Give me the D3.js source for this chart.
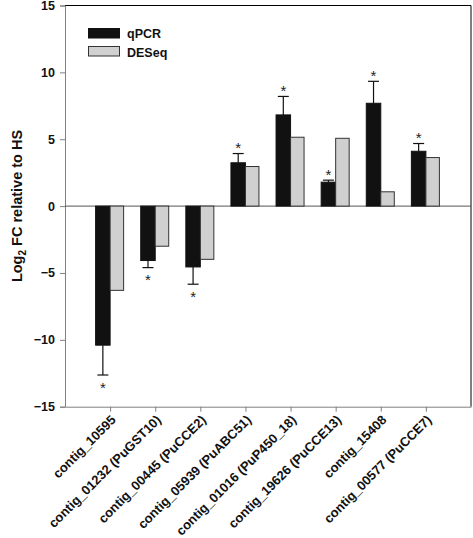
<!DOCTYPE html>
<html><head><meta charset="utf-8">
<script src="https://cdn.jsdelivr.net/npm/d3@7/dist/d3.min.js"></script>
<style>body{margin:0;background:#fff;} svg{display:block;font-family:"Liberation Sans",Arial,sans-serif;}</style>
</head><body><svg id="c" width="473" height="538"></svg>
<script>
const categories = ["contig_10595","contig_01232 (PuGST10)","contig_00445 (PuCCE2)","contig_05939 (PuABC51)","contig_01016 (PuP450_18)","contig_19626 (PuCCE13)","contig_15408","contig_00577 (PuCCE7)"];
const qpcr = [-10.4, -4.07, -4.55, 3.24, 6.82, 1.79, 7.69, 4.1];
const qpcrErr = [2.23, 0.53, 1.29, 0.69, 1.38, 0.15, 1.64, 0.58];
const deseq = [-6.3, -3.0, -3.98, 2.96, 5.15, 5.07, 1.07, 3.63];
const significant = [true, true, true, true, true, true, true, true];
const yTicks = [-15, -10, -5, 0, 5, 10, 15];

const svg = d3.select("#c");
const L = 65, R = 471, T = 5.5, B = 406.7;
const x = d3.scalePoint().domain(categories).range([L, R]).padding(1);
const y = d3.scaleLinear().domain([-15, 15]).range([B, T]);
const bw = 14.5;

svg.append("line").attr("x1", L).attr("x2", R).attr("y1", T).attr("y2", T).attr("stroke", "#000").attr("stroke-width", 1);
svg.append("line").attr("x1", R).attr("x2", R).attr("y1", T).attr("y2", B).attr("stroke", "#000").attr("stroke-width", 1);

const ya = svg.append("g").attr("transform", `translate(${L},0)`)
  .call(d3.axisLeft(y).tickValues(yTicks).tickSize(5).tickPadding(5).tickFormat(d3.format("d")));
ya.select(".domain").attr("stroke", "#808080");
ya.selectAll(".tick line").attr("stroke", "#808080");
ya.selectAll("text").attr("font-size", 12.5).attr("font-weight", "bold").attr("fill", "#111").attr("font-family", "Liberation Sans, Arial, sans-serif");

const xa = svg.append("g").attr("transform", `translate(0,${B})`)
  .call(d3.axisBottom(x).tickSize(5).tickSizeOuter(0));
xa.select(".domain").attr("stroke", "#808080");
xa.selectAll(".tick line").attr("stroke", "#808080");
xa.selectAll("text").attr("font-size", 13).attr("font-weight", "bold").attr("fill", "#111")
  .attr("font-family", "Liberation Sans, Arial, sans-serif")
  .attr("text-anchor", "end").attr("dy", null).attr("y", 0)
  .attr("transform", "translate(6,14) rotate(-45)");

svg.append("line").attr("x1", L).attr("x2", R).attr("y1", y(0)).attr("y2", y(0)).attr("stroke", "#555").attr("stroke-width", 1);

const g = svg.append("g");
categories.forEach((c, i) => {
  const cx = x(c) - bw / 2;
  const v = qpcr[i], e = qpcrErr[i];
  const end = v >= 0 ? v + e : v - e;
  g.append("line").attr("x1", cx).attr("x2", cx).attr("y1", y(v)).attr("y2", y(end)).attr("stroke", "#111").attr("stroke-width", 1.2);
  g.append("line").attr("x1", cx - 5.5).attr("x2", cx + 5.5).attr("y1", y(end)).attr("y2", y(end)).attr("stroke", "#111").attr("stroke-width", 1.2);
  if (significant[i]) {
    const sy = v >= 0 ? y(end) - 9 : y(end) + 9;
    g.append("text").attr("x", cx).attr("y", sy + 8.5).attr("text-anchor", "middle")
      .attr("font-size", 15).attr("fill", "#222").text("*");
  }
});
g.selectAll("rect.q").data(categories).enter().append("rect")
  .attr("x", c => x(c) - bw).attr("width", bw)
  .attr("y", (c, i) => y(Math.max(0, qpcr[i]))).attr("height", (c, i) => Math.abs(y(qpcr[i]) - y(0)))
  .attr("fill", "#111").attr("stroke", "#111").attr("stroke-width", 1);
g.selectAll("rect.d").data(categories).enter().append("rect")
  .attr("x", c => x(c)).attr("width", bw - 1)
  .attr("y", (c, i) => y(Math.max(0, deseq[i]))).attr("height", (c, i) => Math.abs(y(deseq[i]) - y(0)))
  .attr("fill", "#d0d0d0").attr("stroke", "#333").attr("stroke-width", 1);

const leg = svg.append("g");
leg.append("rect").attr("x", 88.5).attr("y", 28.5).attr("width", 31).attr("height", 9.5).attr("fill", "#111").attr("stroke", "#111");
leg.append("rect").attr("x", 88.5).attr("y", 46.5).attr("width", 31).attr("height", 9.5).attr("fill", "#d0d0d0").attr("stroke", "#333");
leg.append("text").attr("x", 127).attr("y", 38).attr("font-size", 12.5).attr("font-weight", "bold").attr("fill", "#111").text("qPCR");
leg.append("text").attr("x", 127).attr("y", 56.5).attr("font-size", 12.5).attr("font-weight", "bold").attr("fill", "#111").text("DESeq");

const yl = svg.append("text").attr("transform", "translate(22,206) rotate(-90)").attr("text-anchor", "middle")
  .attr("font-size", 14.5).attr("font-weight", "bold").attr("fill", "#111");
yl.append("tspan").text("Log");
yl.append("tspan").attr("font-size", 10).attr("dy", 4).text("2");
yl.append("tspan").attr("dy", -4).text(" FC relative to HS");
</script></body></html>
